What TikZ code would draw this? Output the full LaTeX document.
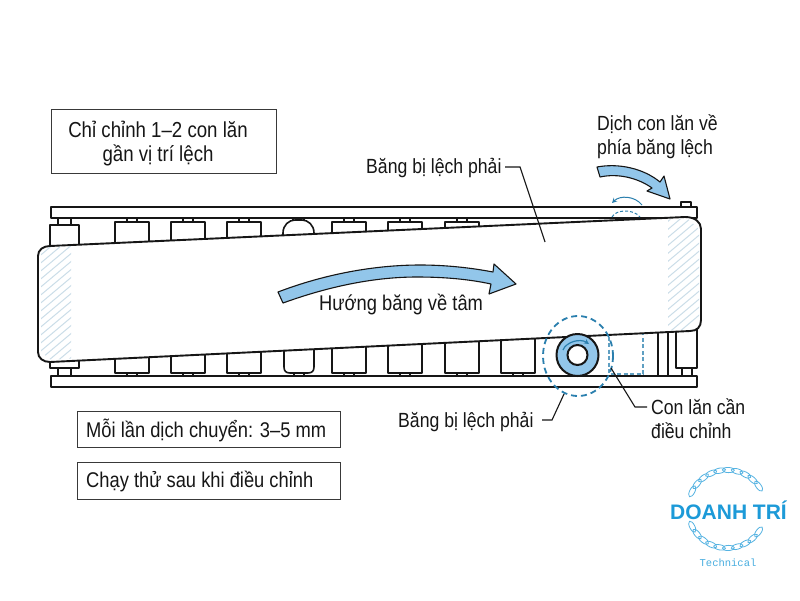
\documentclass[tikz,border=0pt]{standalone}
\usepackage{fontspec}
\setmainfont[FakeStretch=0.86]{Liberation Sans}
\newfontfamily\logofont{Liberation Sans}
\newfontfamily\techfont{Liberation Mono}
\usetikzlibrary{arrows.meta}
\definecolor{inkc}{HTML}{161616}
\definecolor{arrowblue}{HTML}{92C6EA}
\definecolor{dashblue}{HTML}{2A7FAE}
\definecolor{hatchc}{HTML}{CBDDE8}
\definecolor{logoblue}{HTML}{1C9AD8}
\tikzset{
  rail/.style={draw=inkc,line width=1.9pt,fill=white,line join=round},
  rollerline/.style={draw=inkc,line width=1.6pt,fill=white,line join=round},
  hatchline/.style={draw=hatchc,line width=1pt},
  bigarrow/.style={draw=inkc,line width=1.1pt,fill=arrowblue,line join=round},
  textbox/.style={draw=inkc!85,line width=1.3pt,fill=white},
  label/.style={inner sep=0pt,font=\fontsize{20.5}{24}\selectfont,text=inkc},
  boxlabel/.style={inner sep=0pt,font=\fontsize{21.7}{24}\selectfont,text=inkc},
  rowlabel/.style={inner sep=0pt,font=\fontsize{21.3}{24}\selectfont,text=inkc},
  leader/.style={draw=inkc,line width=1.1pt},
  chainlink/.style={draw=logoblue!75,line width=.8pt}
}
\begin{document}
\begin{tikzpicture}[x=1pt,y=-1pt]
\useasboundingbox (0,0) rectangle (800,600);
\fill[white] (0,0) rectangle (800,600);

% rollers, top
\foreach \x in {115,171,227,332,388,445}{
  \draw[rollerline] (\x+12,224)--(\x+12,218)--(\x+22,218)--(\x+22,224);
  \draw[rollerline] (\x,262)--(\x,222)--(\x+34,222)--(\x+34,262);
}
\draw[rollerline] (58,226)--(58,217)--(71,217)--(71,226);
\draw[rollerline] (50,262)--(50,225)--(79,225)--(79,262);
\draw[rollerline] (293,221)--(293,218)--(304,218)--(304,221);
\draw[rollerline] (283,262)--(283,233) .. controls (283,225) and (289,220) .. (295,220)
  -- (302,220) .. controls (308,220) and (314,225) .. (314,233) -- (314,262);
% rollers, bottom
\foreach \x in {115,171,227,332,388,445,501}{
  \draw[rollerline] (\x+12,372)--(\x+12,377)--(\x+22,377)--(\x+22,372);
  \draw[rollerline] (\x,330)--(\x,373)--(\x+34,373)--(\x+34,330);
}
\draw[rollerline] (294,372)--(294,377)--(304,377)--(304,372);
\draw[rollerline] (284,330)--(284,367) .. controls (284,371) and (286,373) .. (290,373)
  -- (308,373) .. controls (312,373) and (314,371) .. (314,367) -- (314,330);
\draw[rollerline] (58,367)--(58,377)--(71,377)--(71,367);
\draw[rollerline] (50,340)--(50,368)--(79,368)--(79,340);
\draw[rollerline] (658,325)--(658,377);
\draw[rollerline] (668,325)--(668,377);
\draw[rollerline] (682,367)--(682,377)--(692,377)--(692,367);
\draw[rollerline] (676,325)--(676,368)--(697,368)--(697,325);
% dashed ghost roller position
\draw[draw=dashblue!75,line width=1.2pt,dash pattern=on 4pt off 2.5pt] (609,330)--(609,374)--(643,374)--(643,330);

% rails
\draw[rail] (681,207)--(681,202)--(691,202)--(691,207);
\draw[rail] (51,207) rectangle (697,218);
\draw[rail] (51,376) rectangle (697,387);

% belt
\draw[draw=inkc,line width=1.9pt,fill=white,line join=round]
  (50,246) -- (685,217) .. controls (695,217) and (701,222) .. (701,229)
  -- (701,320) .. controls (701,327) and (697,331) .. (690,331)
  -- (50,362) .. controls (43,362) and (38,358) .. (38,352)
  -- (38,256) .. controls (38,250) and (43,246) .. (50,246) -- cycle;

% hatching
\begin{scope}
  \clip (41,247.5) -- (71,246) -- (71,358.5) -- (51,360) -- (41,352) -- cycle;
  \foreach \k in {240,248,...,440}{ \draw[hatchline] (30,\k)--(80,\k-42); }
\end{scope}
\begin{scope}
  \clip (668,219.5) -- (688,219) -- (699,229) -- (699,320) -- (688,329.5) -- (668,330.5) -- cycle;
  \foreach \k in {220,228,...,400}{ \draw[hatchline] (660,\k)--(710,\k-42); }
\end{scope}

% main arrow
\draw[bigarrow] (278,292) .. controls (325,274) and (375,265) .. (420,265)
  .. controls (447,265) and (472,268) .. (493,272)
  -- (494,264) -- (516,284) -- (489,294) -- (491,284)
  .. controls (468,279) and (443,277) .. (417,277)
  .. controls (375,277) and (330,286) .. (283,303) -- cycle;
% top-right arrow
\draw[bigarrow] (597,167) .. controls (618,163) and (643,168) .. (660,182)
  -- (664,176) -- (670,199) -- (647,191) -- (652,188)
  .. controls (638,178) and (618,173) .. (600,177) -- cycle;
% rotation above the rail
\draw[draw=dashblue,line width=1pt,-{Stealth[length=5pt,width=5pt]}] (642,205) .. controls (635,196) and (620,195) .. (612,203);
\draw[draw=dashblue,line width=1pt,dash pattern=on 3pt off 2pt] (612,217) .. controls (616,209) and (634,209) .. (640,217);

% roller to adjust
\draw[draw=inkc,line width=2pt,fill=arrowblue] (577.5,355) circle (21);
\draw[draw=inkc,line width=2pt,fill=white] (577.5,355) circle (10);
\draw[draw=dashblue,line width=1.2pt,-{Stealth[length=5pt,width=5pt]}] (563,350) .. controls (566,342) and (580,338) .. (589,344);
\draw[draw=dashblue,line width=1.8pt,dash pattern=on 6pt off 4pt] (578,356) ellipse (35 and 40);

% labels
\node[label,anchor=west] (lbltop) at (366,168) {Băng bị lệch phải};
\coordinate (lbltopa) at (505,167);
\coordinate (lbltopb) at (520,167);
\coordinate (lbltopc) at (545,242);
\draw[leader] (lbltopa)--(lbltopb)--(lbltopc);

\node[label,anchor=west] (lblbot) at (398,421.5) {Băng bị lệch phải};
\coordinate (lblbota) at (542,420);
\coordinate (lblbotb) at (552,420);
\coordinate (lblbotc) at (564,394);
\draw[leader] (lblbota)--(lblbotb)--(lblbotc);

\node[label,anchor=north west,align=left] (lblroller) at (651,398.5) {Con lăn cần\\điều chỉnh};
\coordinate (rollera) at (647,407);
\coordinate (rollerb) at (635,407);
\coordinate (rollerc) at (611,368);
\draw[leader] (rollera)--(rollerb)--(rollerc);

\node[label,anchor=north west,align=left] (lblmove) at (597,115) {Dịch con lăn về\\phía băng lệch};
\node[rowlabel,anchor=west] (lblcenter) at (319,305) {Hướng băng về tâm};

% boxes
\node[textbox,minimum width=225pt,minimum height=64pt,anchor=north west] (box1) at (51,109) {};
\node[boxlabel,align=center] (box1t) at (158,144) {Chỉ chỉnh 1–2 con lăn\\gần vị trí lệch};
\node[textbox,minimum width=263pt,minimum height=36pt,anchor=north west] (box2) at (77,411) {};
\node[rowlabel,anchor=west] (box2t) at (86,430.5) {Mỗi lần dịch chuyển: 3–5 mm};
\node[textbox,minimum width=263pt,minimum height=37pt,anchor=north west] (box3) at (77,462) {};
\node[rowlabel,anchor=west] (box3t) at (86,482) {Chạy thử sau khi điều chỉnh};

% logo
\foreach \a in {-153,-140,...,-27}{
  \pgfmathsetmacro{\px}{727+39*cos(\a)}
  \pgfmathsetmacro{\py}{509+39*sin(\a)}
  \pgfmathsetmacro{\rr}{-\a+90}
  \draw[chainlink,shift={(\px,\py)},rotate=\rr] (0,0) ellipse (6 and 2.6);
}
\foreach \a in {153,140,...,27}{
  \pgfmathsetmacro{\px}{727+39*cos(\a)}
  \pgfmathsetmacro{\py}{509+39*sin(\a)}
  \pgfmathsetmacro{\rr}{-\a+90}
  \draw[chainlink,shift={(\px,\py)},rotate=\rr] (0,0) ellipse (6 and 2.6);
}
\node[inner sep=0pt,text=logoblue] (logo) at (728.5,510) {\logofont\bfseries\fontsize{21}{24}\selectfont DOANH TRÍ};
\node[inner sep=0pt,text=logoblue!80] (tech) at (728,563) {\techfont\fontsize{10.5}{12}\selectfont Technical};
\end{tikzpicture}
\end{document}
